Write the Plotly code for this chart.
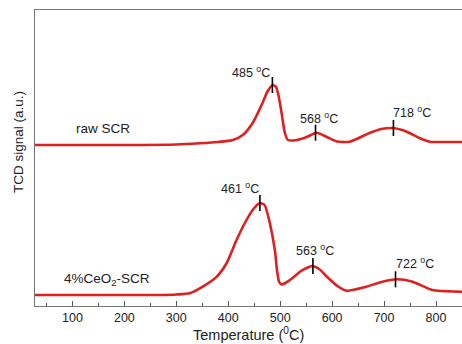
import plotly.graph_objects as go

# H2-TPR profiles (TCD signal, arbitrary units)
raw_temp = [28, 100, 200, 300, 345, 380, 409, 428, 447, 466, 476, 486, 492, 497, 503,
            509, 515, 532, 551, 570, 590, 609, 634, 672, 695, 716, 735, 749, 768, 788,
            820, 850]
raw_signal = [161, 161, 161, 161.5, 162.7, 164, 166, 171, 183, 203, 215, 221, 219, 210, 192,
              173, 166, 166, 169, 173.3, 169, 164.5, 164.3, 173, 177, 178, 176, 173, 168, 164.3,
              164, 164]

ceo2_temp = [28, 100, 200, 268, 300, 326, 351, 378, 397, 416, 432, 447, 461, 470, 480,
             490, 494, 498, 503, 510, 524, 538, 551, 561, 575, 590, 610, 628, 666, 695,
             724, 755, 793, 845, 850]
ceo2_signal = [11, 11, 11, 11, 11.5, 12.7, 19.3, 29.3, 43, 66, 83, 96, 103, 101, 83,
               55, 35, 24, 21.5, 23, 28, 34.3, 38, 40, 37, 29.3, 20, 15.3, 19.3, 24,
               26.7, 24.3, 16, 14.3, 14.3]

# Peak maxima
raw_peak_temp = [485, 568, 718]
raw_peak_signal = [221, 173.3, 178]
ceo2_peak_temp = [461, 563, 722]
ceo2_peak_signal = [103, 40, 26.7]

sample_names = ["raw SCR", "4%CeO<sub>2</sub>-SCR"]

RED = "#dd2020"
TICK_HALF = 8  # half-height of peak markers, in signal units

fig = go.Figure()

for t, s in [(raw_temp, raw_signal), (ceo2_temp, ceo2_signal)]:
    fig.add_trace(go.Scatter(x=t, y=s, mode="lines",
                             line=dict(color=RED, width=2.6, shape="spline", smoothing=0.6),
                             showlegend=False, hoverinfo="skip"))

# Vertical marker at each peak
for pt, ps in [(raw_peak_temp, raw_peak_signal), (ceo2_peak_temp, ceo2_peak_signal)]:
    xs, ys = [], []
    for t, s in zip(pt, ps):
        xs += [t, t, None]
        ys += [s - TICK_HALF, s + TICK_HALF, None]
    fig.add_trace(go.Scatter(x=xs, y=ys, mode="lines",
                             line=dict(color="black", width=1.6),
                             showlegend=False, hoverinfo="skip"))

# Peak temperature labels
label_dx = [[-21, 3, 19], [-20, 2, 19]]
label_dy = [[13, 15, 16], [15, 16, 16]]
for k, (pt, ps) in enumerate([(raw_peak_temp, raw_peak_signal), (ceo2_peak_temp, ceo2_peak_signal)]):
    for i, (t, s) in enumerate(zip(pt, ps)):
        fig.add_annotation(x=t, y=s, text=f"{t} <sup>o</sup>C", showarrow=False,
                           xanchor="center", yanchor="middle",
                           xshift=label_dx[k][i], yshift=label_dy[k][i],
                           font=dict(size=12.5, color="#222222"))

# Sample names
fig.add_annotation(x=158, y=178, text=sample_names[0], showarrow=False,
                   xanchor="center", yanchor="middle",
                   font=dict(size=13.5, color="#222222"))
fig.add_annotation(x=166, y=27, text=sample_names[1], showarrow=False,
                   xanchor="center", yanchor="middle",
                   font=dict(size=13.5, color="#222222"))

# Axis titles
fig.add_annotation(xref="paper", yref="paper", x=0, y=0.5, xshift=-17, yshift=16,
                   text="TCD signal (a.u.)", textangle=-90, showarrow=False,
                   xanchor="center", yanchor="middle",
                   font=dict(size=13.5, color="#222222"))
fig.add_annotation(xref="paper", yref="paper", x=0.5, y=0, yshift=-28,
                   text="Temperature (<sup>0</sup>C)", showarrow=False,
                   xanchor="center", yanchor="middle",
                   font=dict(size=14.5, color="#222222"))

fig.update_layout(
    width=462, height=344,
    margin=dict(l=35, r=0, t=10, b=38),
    paper_bgcolor="white", plot_bgcolor="white",
    font=dict(family="Liberation Sans, Arial, sans-serif", color="#222222"),
)
fig.update_xaxes(range=[28, 850], tickvals=[100, 200, 300, 400, 500, 600, 700, 800],
                 ticks="inside", ticklen=5, tickcolor="#555555",
                 minor=dict(dtick=50, tick0=0, ticks="inside", ticklen=3, tickcolor="#555555"),
                 showline=True, linecolor="#777777", linewidth=1.2, mirror=True,
                 showgrid=False, zeroline=False,
                 tickfont=dict(size=12.5, color="#222222"))
fig.update_yaxes(range=[0, 296], showticklabels=False, ticks="",
                 showline=True, linecolor="#777777", linewidth=1.2,
                 showgrid=False, zeroline=False)

fig.write_html("out.html")
